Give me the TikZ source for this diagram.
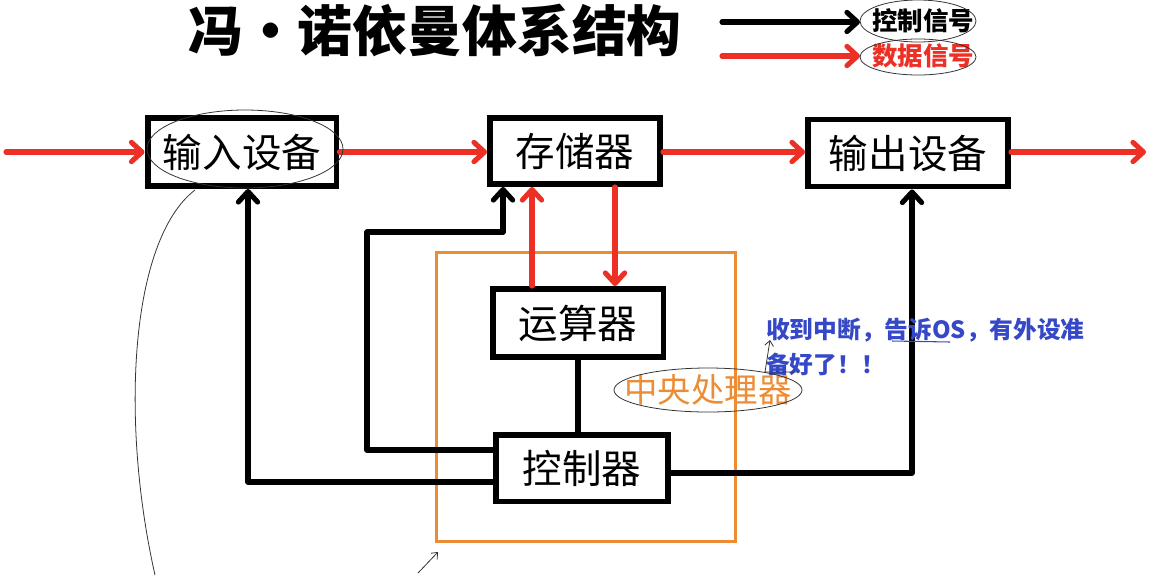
\documentclass[tikz,border=0pt]{standalone}
\usepackage{fontspec}
\setmainfont{Noto Sans CJK SC}
\usetikzlibrary{arrows.meta,shapes.geometric}
\definecolor{datared}{RGB}{236,48,38}
\definecolor{cpuorange}{RGB}{236,140,52}
\definecolor{noteblue}{RGB}{52,72,200}
\tikzset{
  unitbox/.style={draw,line width=3.4pt,fill=white,inner sep=0pt,font=\fontsize{22.5}{26}\selectfont},
  databus/.style={datared,line width=2.9pt,line cap=round,-{Straight Barb[length=6pt,width=11pt,round]}},
  ctlbus/.style={black,line width=2.9pt,line cap=round,line join=round},
  ctlarrow/.style={ctlbus,-{Straight Barb[length=6pt,width=11pt,round]}},
  scribble/.style={black!80,line width=0.45pt}
}
\begin{document}
\begin{tikzpicture}[x=0.02cm,y=-0.02cm]
\useasboundingbox (0,0) rectangle (1151,575);
% title and legend
\node[font=\fontsize{31.2}{34}\selectfont\bfseries] (title) at (435,31) {冯·诺依曼体系结构};
\coordinate (kfrom) at (722,22);
\coordinate (kto) at (860,22);
\coordinate (dfrom) at (722,56);
\coordinate (dto) at (860,56);
\draw[ctlarrow] (kfrom) -- (kto);
\draw[databus] (dfrom) -- (dto);
\node[font=\fontsize{14.5}{16}\selectfont\bfseries,anchor=west] (klabel) at (866,21) {控制信号};
\node[font=\fontsize{14.5}{16}\selectfont\bfseries,anchor=west,text=datared] (dlabel) at (866,56) {数据信号};
% cpu frame
\node[draw=cpuorange,line width=1.7pt,minimum width=6cm,minimum height=5.8cm] (cpu) at (586,397) {};
\node[font=\fontsize{19}{22}\selectfont,text=cpuorange] (cpulabel) at (708,390) {中央处理器};
% units
\node[unitbox,minimum width=3.78cm,minimum height=1.36cm] (in) at (242,152) {输入设备};
\node[unitbox,minimum width=3.4cm,minimum height=1.32cm] (mem) at (575,151) {存储器};
\node[unitbox,minimum width=4cm,minimum height=1.34cm] (out) at (908,153) {输出设备};
\node[unitbox,minimum width=3.42cm,minimum height=1.36cm] (alu) at (578,323) {运算器};
\node[unitbox,minimum width=3.44cm,minimum height=1.34cm] (ctl) at (582,468) {控制器};
% data paths
\coordinate (src) at (6,152);
\coordinate (sink) at (1146,152);
\draw[databus] (src) -- (in.west |- src);
\draw[databus] (in.east |- src) -- (mem.west |- src);
\draw[databus] (mem.east |- src) -- (out.west |- src);
\draw[databus] (out.east |- src) -- (sink);
\coordinate (upfoot) at ([xshift=-0.92cm]alu.north);
\coordinate (downtop) at ([xshift=0.8cm]mem.south);
\draw[databus] (upfoot) -- (upfoot |- mem.south);
\draw[databus] (downtop) -- (downtop |- alu.north);
% control paths
\draw[ctlbus] (alu.south) -- (alu.south |- ctl.north);
\coordinate (c1) at ([yshift=0.36cm]ctl.west);
\coordinate (c2) at ([yshift=-0.28cm]ctl.west);
\coordinate (c3) at ([yshift=-0.1cm]ctl.east);
\coordinate (k1) at (367,232);
\coordinate (m1) at ([xshift=-1.44cm]mem.south);
\coordinate (i1) at ([xshift=0.12cm]in.south);
\coordinate (o1) at ([xshift=0.08cm]out.south);
\draw[ctlbus] (c1) -| (k1);
\draw[ctlarrow] (k1) -| (m1);
\draw[ctlarrow] (c2) -| (i1);
\draw[ctlarrow] (c3) -| (o1);
% note
\node[font=\fontsize{13.5}{20}\selectfont\bfseries,text=noteblue,align=left,anchor=north west] (note) at (760,312) {收到中断，告诉OS，有外设准\\备好了！！};
% hand scribbles
\draw[scribble] (245,149) ellipse[x radius=98,y radius=39];
\draw[scribble] (195,190) .. controls (130,240) and (120,420) .. (155,575);
\draw[scribble] (708,390) ellipse[x radius=94,y radius=22];
\draw[scribble] (918,21) ellipse[x radius=58,y radius=21];
\draw[scribble] (918,57) ellipse[x radius=58,y radius=18];
\draw[scribble,-{Straight Barb[length=3pt,width=5pt]}] (800,372) -- (765,372) -- (770,340);
\draw[noteblue,line width=0.6pt] (892,341) -- (950,342);
\draw[scribble,-{Straight Barb[length=3pt,width=5pt]}] (418,573) -- (438,552);
\end{tikzpicture}
\end{document}
